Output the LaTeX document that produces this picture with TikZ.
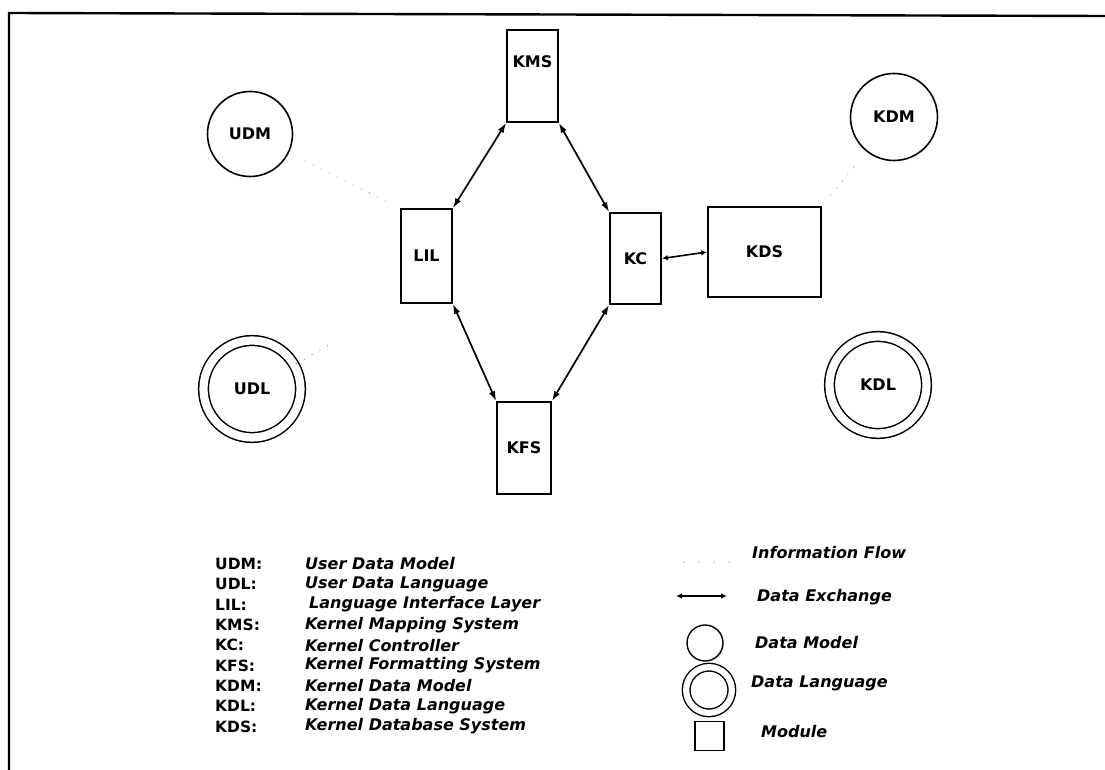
\documentclass[tikz,border=0pt]{standalone}
\usepackage{fontspec}
\setmainfont{DejaVu Sans}
\usetikzlibrary{arrows.meta}
\begin{document}
\begin{tikzpicture}[x=1pt,y=-1pt,
  lbl/.style={font=\bfseries\fontsize{16}{16}\selectfont},
  modbox/.style={draw,line width=1.7pt,inner sep=0pt,lbl},
  dmodel/.style={draw,circle,line width=1.6pt,inner sep=0pt,minimum size=85pt,lbl},
  dlang/.style={draw,circle,line width=1.5pt,double=white,double distance=8.2pt,inner sep=0pt,minimum size=97pt,lbl},
  xchg/.style={{Latex[length=10pt,width=6.5pt]}-{Latex[length=10pt,width=6.5pt]},line width=1.7pt},
  xchgs/.style={{Latex[length=6pt,width=5.5pt]}-{Latex[length=6pt,width=5.5pt]},line width=1.6pt},
  flow/.style={draw=black!55,line width=1.1pt,line cap=round,dash pattern=on 0pt off 9pt},
  abbr/.style={anchor=west,inner sep=0pt,font=\bfseries\fontsize{15.5}{15.5}\selectfont},
  desc/.style={anchor=west,inner sep=0pt,font=\bfseries\itshape\fontsize{16}{16}\selectfont},
  frame/.style={line width=2.4pt}]
\useasboundingbox (0,0) rectangle (1105,770);
\fill[white] (0,0) rectangle (1105,770);
% frame
\coordinate (fr1) at (9,770);
\coordinate (fr2) at (9,13);
\coordinate (fr3) at (1105,16);
\draw[frame] (fr1) -- (fr2) -- (fr3);
% modules
\node[modbox,minimum width=51pt,minimum height=92pt,label={[lbl,yshift=14pt]center:KMS}] (kms) at (532.5,76) {};
\node[modbox,minimum width=51pt,minimum height=94pt] (lil) at (426.5,256) {LIL};
\node[modbox,minimum width=51pt,minimum height=91pt] (kc) at (635.5,258.5) {KC};
\node[modbox,minimum width=113pt,minimum height=90pt] (kds) at (764.5,252) {KDS};
\node[modbox,minimum width=54pt,minimum height=92pt] (kfs) at (524,448) {KFS};
% data models / languages
\node[dmodel] (udm) at (250,134) {UDM};
\node[dmodel,minimum size=87pt] (kdm) at (894,117) {KDM};
\node[dlang] (udl) at (252,389) {UDL};
\node[dlang] (kdl) at (878,385) {KDL};
% data exchange
\draw[xchg] (kms.south west) -- (lil.north east);
\draw[xchg] (kms.south east) -- (kc.north west);
\draw[xchg] (lil.south east) -- (kfs.north west);
\draw[xchg] (kc.south west) -- (kfs.north east);
\draw[xchgs] (kc.east) -- (kds.west);
% information flow
\draw[flow,shorten <=18pt,shorten >=8pt] (udm) -- (lil.north west);
\draw[flow,shorten <=20pt,shorten >=14pt] (kdm) -- (kds.north east);
\draw[flow,shorten <=2pt,shorten >=82pt] (udl) -- (lil.south west);
% legend left
\node[abbr] (a1) at (215,564) {UDM:};
\node[abbr] (a2) at (215,584.3) {UDL:};
\node[abbr] (a3) at (215,604.6) {LIL:};
\node[abbr] (a4) at (215,624.9) {KMS:};
\node[abbr] (a5) at (215,645.2) {KC:};
\node[abbr] (a6) at (215,665.5) {KFS:};
\node[abbr] (a7) at (215,685.8) {KDM:};
\node[abbr] (a8) at (215,706.1) {KDL:};
\node[abbr] (a9) at (215,726.4) {KDS:};
\node[desc] (d1) at (305,564) {User Data Model};
\node[desc] (d2) at (305,584.3) {User Data Language};
\node[desc] (d3) at (309,604.6) {Language Interface Layer};
\node[desc] (d4) at (305,624.9) {Kernel Mapping System};
\node[desc] (d5) at (305,645.2) {Kernel Controller};
\node[desc] (d6) at (305,665.5) {Kernel Formatting System};
\node[desc] (d7) at (305,685.8) {Kernel Data Model};
\node[desc] (d8) at (305,706.1) {Kernel Data Language};
\node[desc] (d9) at (305,726.4) {Kernel Database System};
% legend right
\coordinate (lf1) at (684,562);
\coordinate (lf2) at (730,562);
\draw[flow,dash pattern=on 0pt off 15pt] (lf1) -- (lf2);
\node[desc] (r1) at (752,553) {Information Flow};
\coordinate (le1) at (676,596);
\coordinate (le2) at (727,596);
\draw[xchgs] (le1) -- (le2);
\node[desc] (r2) at (757,597) {Data Exchange};
\node[draw,circle,line width=1.4pt,minimum size=36pt,inner sep=0pt] (lm) at (705,643) {};
\node[desc] (r3) at (755,643) {Data Model};
\node[draw,circle,line width=1.4pt,double=white,double distance=6.2pt,minimum size=45.7pt,inner sep=0pt] (ll) at (709,690) {};
\node[desc] (r4) at (751,683) {Data Language};
\node[draw,line width=1.4pt,minimum width=29pt,minimum height=29pt,inner sep=0pt] (lb) at (709.5,736) {};
\node[desc] (r5) at (761,732) {Module};
\end{tikzpicture}
\end{document}
